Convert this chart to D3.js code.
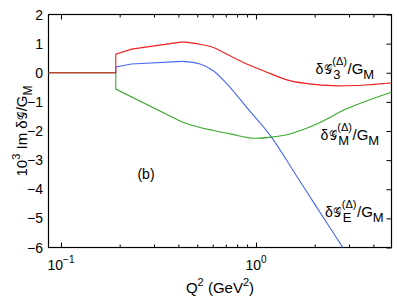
<!DOCTYPE html>
<html>
<head>
<meta charset="utf-8">
<script src="https://cdn.jsdelivr.net/npm/d3@7"></script>
<style>
  body { margin: 0; background: #fff; }
  text { font-family: "Liberation Sans", Arial, Helvetica, sans-serif; fill: #000; }
</style>
</head>
<body>
<svg id="chart" width="399" height="296"></svg>
<script>
// values (Q^2 in GeV^2, 10^3 Im dG/G_M)
const kneeQ = 0.42;   // straight pieces below, smooth curve above

const g3Q = [0.086, 0.191, 0.191, 0.23, 0.42, 0.516, 0.604, 0.736, 0.896, 1.09, 1.49, 2.0, 2.6, 3.3, 4.0, 4.95];
const g3V = [0, 0, 0.64, 0.81, 1.06, 0.98, 0.87, 0.58, 0.30, 0.07, -0.27, -0.40, -0.45, -0.44, -0.40, -0.35];

const gmQ = [0.086, 0.191, 0.191, 0.42, 0.516, 0.604, 0.736, 1.0, 1.2, 1.49, 1.97, 2.92, 4.95];
const gmV = [0, 0, -0.56, -1.70, -1.88, -1.98, -2.10, -2.25, -2.21, -2.10, -1.81, -1.24, -0.67];

const geQ = [0.086, 0.191, 0.191, 0.23, 0.42, 0.516, 0.604, 0.736, 0.896, 1.2, 1.6, 2.0, 2.4, 2.8];
const geV = [0, 0, 0.20, 0.30, 0.39, 0.30, 0.07, -0.50, -1.19, -2.21, -3.50, -4.51, -5.33, -6.02];

const yTicks = [-6, -5, -4, -3, -2, -1, 0, 1, 2];
const xMajor = [0.1, 1];
const xMajorExp = ["\u22121", "0"];
const xMinor = [0.2, 0.3, 0.4, 0.5, 0.6, 0.7, 0.8, 0.9, 2, 3, 4];

const svg = d3.select("#chart");
const pLeft = 48.5, pRight = 391.5, pTop = 14.5, pBottom = 247.5;

const x = d3.scaleLog().domain([0.0863, 4.954]).range([pLeft, pRight]);
const y = d3.scaleLinear().domain([-6, 2]).range([pBottom, pTop]);

svg.append("clipPath").attr("id", "clip")
  .append("rect").attr("x", pLeft).attr("y", pTop)
  .attr("width", pRight - pLeft).attr("height", pBottom - pTop);

// axes (ticks point inward)
function styleAxis(g) {
  g.select(".domain").remove();
  g.selectAll("line").attr("stroke", "#000");
}
svg.append("g").attr("transform", `translate(0,${pBottom})`)
  .call(d3.axisBottom(x).tickValues(xMajor).tickSize(-5).tickFormat("")).call(styleAxis);
svg.append("g").attr("transform", `translate(0,${pBottom})`)
  .call(d3.axisBottom(x).tickValues(xMinor).tickSize(-3).tickFormat("")).call(styleAxis);
svg.append("g").attr("transform", `translate(0,${pTop})`)
  .call(d3.axisTop(x).tickValues(xMajor).tickSize(-5).tickFormat("")).call(styleAxis);
svg.append("g").attr("transform", `translate(0,${pTop})`)
  .call(d3.axisTop(x).tickValues(xMinor).tickSize(-3).tickFormat("")).call(styleAxis);
svg.append("g").attr("transform", `translate(${pRight},0)`)
  .call(d3.axisRight(y).tickValues(yTicks).tickSize(-5).tickFormat("")).call(styleAxis);

// y tick labels
svg.append("g").selectAll("text").data(yTicks).join("text")
  .attr("x", 43).attr("y", d => y(d)).attr("dy", "0.36em")
  .attr("text-anchor", "end").style("font-size", "14px")
  .text(d => d3.format("d")(d));

// x tick labels 10^n
const xl = svg.append("g").selectAll("text").data(xMajor).join("text")
  .attr("x", d => x(d)).attr("y", 270).attr("text-anchor", "middle").style("font-size", "14px");
xl.append("tspan").text("10");
xl.append("tspan").attr("dy", -7).style("font-size", "10px").text((d, i) => xMajorExp[i]);

// box
svg.append("rect").attr("x", pLeft).attr("y", pTop)
  .attr("width", pRight - pLeft).attr("height", pBottom - pTop)
  .attr("fill", "none").attr("stroke", "#000").attr("stroke-width", 1.2);

// curves
const series = [
  { q: geQ, v: geV, color: "#4a68f5" },
  { q: gmQ, v: gmV, color: "#3aa82c" },
  { q: g3Q, v: g3V, color: "#ee2020" }
];
const straight = d3.line().x(d => x(d[0])).y(d => y(d[1]));
const smooth = d3.line().x(d => x(d[0])).y(d => y(d[1])).curve(d3.curveMonotoneX);
const plot = svg.append("g").attr("clip-path", "url(#clip)");
series.forEach(s => {
  const pts = s.q.map((q, i) => [q, s.v[i]]);
  plot.append("path").datum(pts.filter(p => p[0] <= kneeQ))
    .attr("d", straight).attr("fill", "none").attr("stroke", s.color).attr("stroke-width", 1.1);
  plot.append("path").datum(pts.filter(p => p[0] >= kneeQ))
    .attr("d", smooth).attr("fill", "none").attr("stroke", s.color).attr("stroke-width", 1.1);
});

// curve labels: δG^(Δ)_sub / G_M
function mathLabel(x0, y0, sub) {
  const g = svg.append("g");
  const d = g.append("text").attr("x", x0).attr("y", y0).style("font-size", "14px").text("δ");
  const gx = x0 + d.node().getComputedTextLength() + 0.5;
  g.append("text").attr("x", gx).attr("y", y0).style("font-size", "13px")
    .attr("textLength", 8).attr("lengthAdjust", "spacingAndGlyphs").text("\u{1D4A2}");
  const sx = gx + 8.5;
  const tsup = g.append("text").attr("x", sx).attr("y", y0 - 9).style("font-size", "11px").text("(Δ)");
  const tsub = g.append("text").attr("x", sx + 1).attr("y", y0 + 5).style("font-size", "13px").text(sub);
  const w2 = Math.max(tsup.node().getComputedTextLength(), tsub.node().getComputedTextLength() + 1);
  const t3 = g.append("text").attr("x", sx + w2 + 0.5).attr("y", y0).style("font-size", "15px").text("/G");
  g.append("text").attr("x", sx + w2 + 0.5 + t3.node().getComputedTextLength()).attr("y", y0 + 5)
    .style("font-size", "13px").text("M");
}
mathLabel(315.5, 74, "3");
mathLabel(320.5, 140, "M");
mathLabel(325, 216.5, "E");

// panel mark
svg.append("text").attr("x", 146).attr("y", 179).attr("text-anchor", "middle")
  .style("font-size", "14px").text("(b)");

// x label
const xt = svg.append("text").attr("x", 220).attr("y", 293).attr("text-anchor", "middle").style("font-size", "15px");
xt.append("tspan").text("Q");
xt.append("tspan").attr("dy", -7).style("font-size", "11px").text("2");
xt.append("tspan").attr("dy", 7).text(" (GeV");
xt.append("tspan").attr("dy", -7).style("font-size", "11px").text("2");
xt.append("tspan").attr("dy", 7).text(")");

// y label: 10^3 Im δG/G_M, rotated
const yl = svg.append("g").attr("transform", "translate(27,131) rotate(-90)");
const ylParts = yl.append("text").style("font-size", "15px");
ylParts.append("tspan").text("10");
ylParts.append("tspan").attr("dy", -7).style("font-size", "11px").text("3");
ylParts.append("tspan").attr("dy", 7).text(" Im δ");
const w1 = ylParts.node().getComputedTextLength();
yl.append("text").attr("x", w1 + 0.5).style("font-size", "13px")
  .attr("textLength", 8).attr("lengthAdjust", "spacingAndGlyphs").text("\u{1D4A2}");
const ylTail = yl.append("text").attr("x", w1 + 9).style("font-size", "15px");
ylTail.append("tspan").text("/G");
ylTail.append("tspan").attr("dy", 5).style("font-size", "12px").text("M");
const total = w1 + 9 + ylTail.node().getComputedTextLength();
yl.selectAll("text").attr("transform", `translate(${-total / 2},0)`);
</script>
</body>
</html>
